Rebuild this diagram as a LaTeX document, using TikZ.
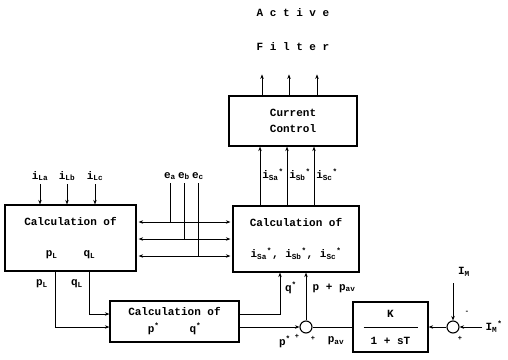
\documentclass[tikz,border=0pt]{standalone}
\usepackage{fontspec}
\setmonofont{Liberation Mono}
\usetikzlibrary{arrows.meta}

\newcommand\tsub[1]{\textsubscript{#1}}
\newcommand\tsup[1]{\textsuperscript{#1}}

\tikzset{
  every node/.style={font=\ttfamily\bfseries\fontsize{11}{13}\selectfont},
  blk/.style={draw, line width=1.2pt, align=center, inner sep=0pt},
  sumc/.style={draw, circle, line width=1.1pt, minimum size=12pt, inner sep=0pt},
  sgn/.style={font=\ttfamily\bfseries\scriptsize, inner sep=0pt},
  arr/.style={line width=1pt, -{Stealth[length=4.5pt,width=3.5pt]}},
  dbl/.style={line width=1pt, {Stealth[length=4.5pt,width=3.5pt]}-{Stealth[length=4.5pt,width=3.5pt]}, shorten <=2pt, shorten >=2pt},
  ln/.style={line width=1pt}
}

\begin{document}
\begin{tikzpicture}[x=1pt,y=-1pt]

\useasboundingbox (0,0) rectangle (508,359);

% Output
\node (act) at (293,13) {A c t i v e};
\node (filt) at (293,47) {F i l t e r};

% Current control
\node[blk, minimum width=128pt, minimum height=50pt] (ctrl) at (293,121)
{Current\\[3pt]Control};

\foreach \dx in {-31,-4,24}
{
\draw[arr] ([xshift=\dx pt]ctrl.north) -- ++(0,-21);
}

% Calculation blocks
\node[blk, minimum width=131pt, minimum height=66pt] (calcL) at (70.5,238)
{Calculation of\\[18pt]p\tsub{L}\hspace{26pt}q\tsub{L}};

\node[blk, minimum width=126pt, minimum height=66pt] (calcR) at (296,239)
{Calculation of\\[18pt]i\tsub{Sa}\tsup{*}, i\tsub{Sb}\tsup{*}, i\tsub{Sc}\tsup{*}};

\node[blk, minimum width=129pt, minimum height=41pt] (calcP) at (174.5,321.5)
{Calculation of\\[4pt]p\tsup{*}\hspace{30pt}q\tsup{*}};

\node[blk, minimum width=75pt, minimum height=50pt] (kbox) at (390.5,327)
{K\\[14pt]1 + sT};
\draw[ln] ([xshift=-27pt]kbox.center) -- ([xshift=27pt]kbox.center);

% Summing points
\node[sumc] (sumP) at (306,327) {};
\node[sumc] (sumI) at (453,327) {};

% Reference currents to current control
\foreach \dx/\nm/\tx in {
-33/lsa/Sa,
-6/lsb/Sb,
21/lsc/Sc%
}
{
\draw[arr] ([xshift=\dx pt]ctrl.south |- calcR.north) -- ([xshift=\dx pt]ctrl.south);
\node (\nm) at ([xshift=\dx pt + 13pt]ctrl.south |- 0,175) {i\tsub{\tx}\tsup{*}};
}

% Load currents
\foreach \x/\nm/\tx in {
40/iLa/La,
67/iLb/Lb,
95/iLc/Lc%
}
{
\node (\nm) at (\x,176) {i\tsub{\tx}};
\draw[arr] (\nm.south) -- (\nm |- calcL.north);
}

% Voltages
\coordinate (h1) at (0,222);
\coordinate (h2) at (0,239);
\coordinate (h3) at (0,256);

\foreach \h in {h1,h2,h3}
{
\draw[dbl] (calcL.east |- \h) -- (calcR.west |- \h);
}

\foreach \x/\nm/\tx/\h in {
170/ea/a/h1,
184/eb/b/h2,
198/ec/c/h3%
}
{
\node (\nm) at (\x,176) {e\tsub{\tx}};
\draw[ln] (\nm.south) -- (\nm |- \h);
}

% pL and qL
\coordinate (rowq) at (0,314);
\coordinate (rowp) at (0,327);

\draw[arr] ([xshift=-15.5pt]calcL.south) |- (calcP.west |- rowp);
\draw[arr] ([xshift=18.5pt]calcL.south) |- (calcP.west |- rowq);
\node (lpL) at (42,284) {p\tsub{L}};
\node (lqL) at (77,284) {q\tsub{L}};

% p* and q*
\draw[arr] (calcP.east |- rowq) -| ([xshift=-16pt]calcR.south);
\draw[arr] (calcP.east |- rowp) -- (sumP.west);
\draw[arr] (sumP.north) -- (sumP |- calcR.south);
\node (lq) at (291,288) {q\tsup{*}};
\node (lppav) at (334,288) {p + p\tsub{av}};
\node (lp) at (285,342) {p\tsup{*}};
\node[sgn] (sp1) at (297,336) {+};
\node[sgn] (sp2) at (313,338) {+};
\node (lpav) at (336,341) {p\tsub{av}};

% Loop
\draw[ln] (kbox.west) -- (sumP.east);
\draw[arr] (sumI.west) -- (kbox.east);

\coordinate (imtop) at (453,283);
\node (IM) at (464,272) {I\tsub{M}};
\draw[arr] (imtop) -- (sumI.north);
\node (IMs) at (494,327) {I\tsub{M}\tsup{*}};
\draw[arr] (IMs.west) -- (sumI.east);
\node[sgn] (si1) at (467,312) {-};
\node[sgn] (si2) at (460,338) {+};

\end{tikzpicture}
\end{document}
